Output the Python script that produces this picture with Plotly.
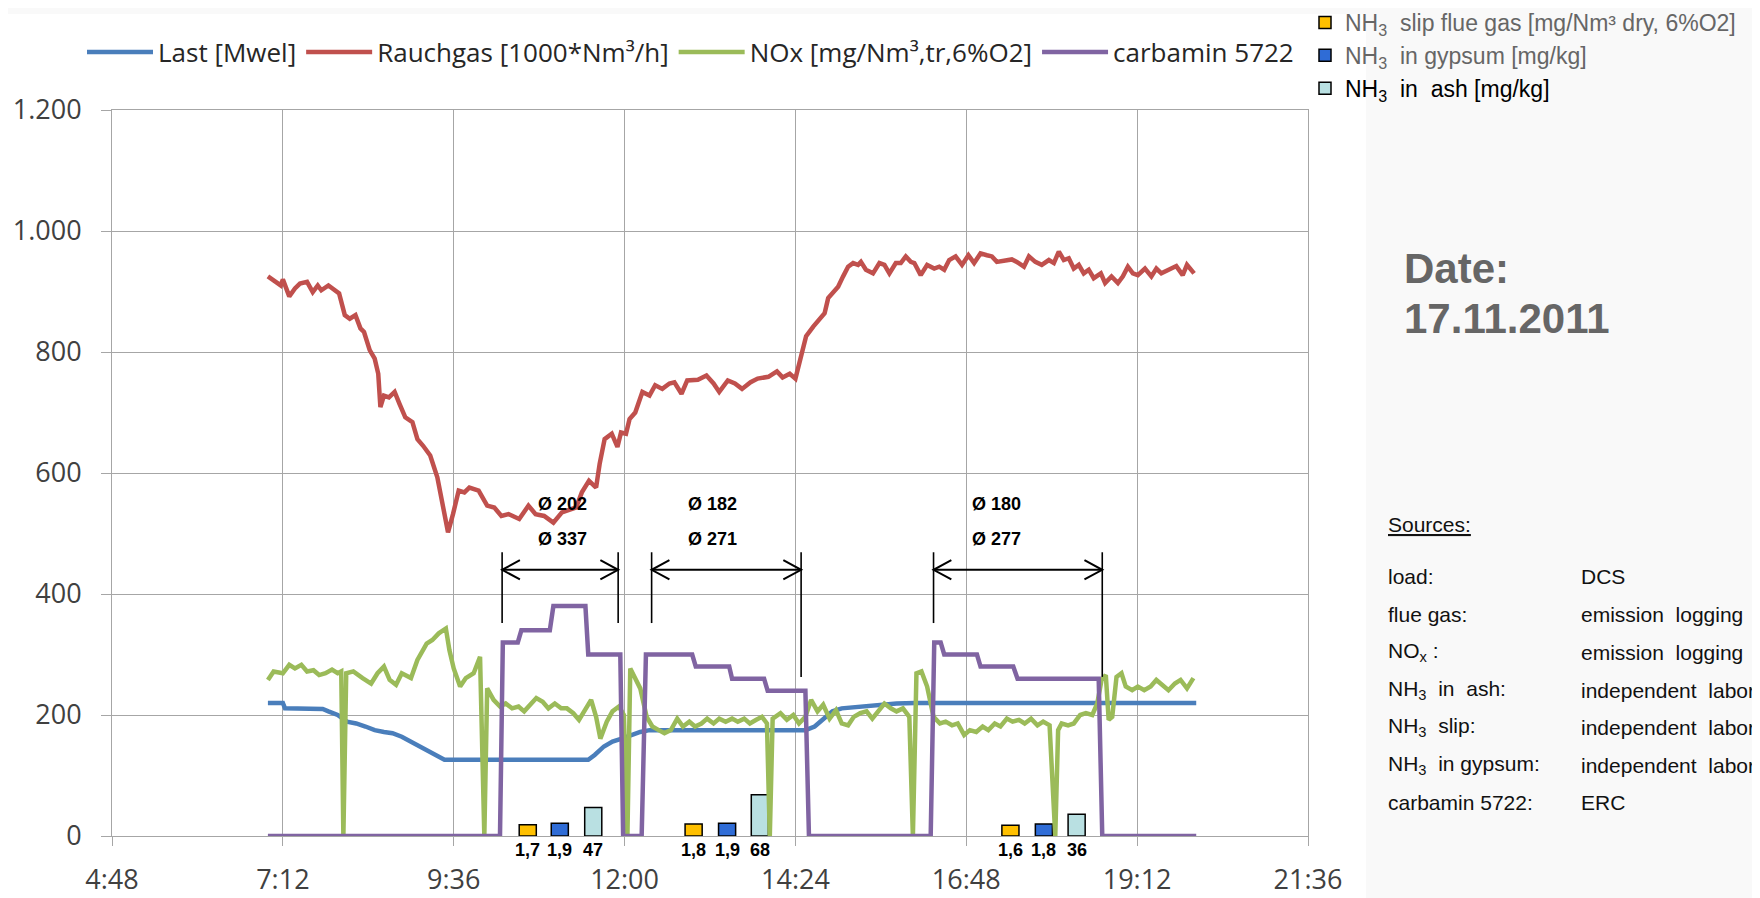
import plotly.graph_objects as go

# ---------------- data (time in decimal hours) ----------------
last_t = [6.99, 7.2, 7.23, 7.76, 7.84, 7.97, 8.1, 8.23, 8.36, 8.49, 8.62, 8.74, 8.87, 9.0, 9.13,
          9.26, 9.39, 9.47, 11.49, 11.58, 11.71, 11.83, 11.96, 12.09, 12.22, 12.35, 14.54, 14.67,
          14.79, 14.92, 15.05, 15.31, 15.57, 15.82, 16.08, 20.03]
last_v = [220, 220, 211, 210, 206, 200, 189, 186, 181, 175, 172, 170, 164, 156, 148,
          139, 131, 126, 126, 134, 148, 156, 161, 167, 172, 175, 175, 181,
          192, 206, 211, 214, 217, 219, 220, 220]

rauch_t = [6.99, 7.09, 7.17, 7.2, 7.29, 7.37, 7.44, 7.54, 7.62, 7.69, 7.74, 7.84, 7.92, 7.99, 8.07,
           8.14, 8.22, 8.29, 8.34, 8.42, 8.49, 8.54, 8.57, 8.62, 8.69, 8.77, 8.84, 8.92, 9.02, 9.09,
           9.17, 9.27, 9.37, 9.44, 9.52, 9.59, 9.67, 9.75, 9.82, 9.95, 10.07, 10.17, 10.27, 10.37,
           10.52, 10.65, 10.75, 10.87, 11.0, 11.12, 11.22, 11.32, 11.4, 11.5, 11.6, 11.65, 11.72,
           11.82, 11.9, 11.95, 12.02, 12.07, 12.15, 12.25, 12.35, 12.43, 12.53, 12.63, 12.7, 12.8,
           12.88, 13.03, 13.15, 13.25, 13.33, 13.45, 13.55, 13.65, 13.77, 13.87, 14.02, 14.14, 14.22,
           14.32, 14.4, 14.46, 14.55, 14.65, 14.74, 14.81, 14.86, 14.93, 15.0, 15.07, 15.14, 15.21,
           15.28, 15.32, 15.39, 15.49, 15.58, 15.65, 15.72, 15.81, 15.88, 15.95, 16.02, 16.07, 16.16,
           16.25, 16.35, 16.42, 16.49, 16.56, 16.65, 16.74, 16.83, 16.91, 17.0, 17.09, 17.16, 17.23,
           17.35, 17.44, 17.51, 17.61, 17.68, 17.77, 17.86, 17.96, 18.03, 18.1, 18.17, 18.24, 18.31,
           18.38, 18.45, 18.52, 18.59, 18.69, 18.75, 18.84, 18.93, 19.0, 19.07, 19.14, 19.21, 19.31,
           19.4, 19.47, 19.54, 19.63, 19.75, 19.84, 19.9, 20.0]
rauch_v = [925, 916, 910, 920, 892, 905, 913, 916, 899, 910, 902, 910, 902, 897, 861,
           855, 861, 839, 833, 803, 789, 764, 709, 728, 725, 734, 714, 692, 684, 656,
           645, 629, 593, 549, 502, 532, 571, 568, 576, 571, 546, 543, 529, 532,
           524, 546, 532, 529, 518, 535, 540, 543, 568, 587, 576, 615, 656,
           665, 643, 667, 665, 689, 700, 734, 728, 745, 739, 748, 750, 731,
           753, 754, 761, 748, 734, 753, 748, 739, 750, 756, 759, 768, 758,
           764, 756, 782, 826, 842, 856, 864, 889, 900, 908, 925, 941, 947,
           944, 949, 936, 930, 947, 944, 930, 947, 947, 958, 949, 947, 927,
           944, 938, 941, 936, 952, 958, 944, 960, 947, 963, 960, 958, 949,
           951, 953, 949, 941, 958, 949, 944, 952, 947, 966, 952, 955, 938,
           944, 930, 936, 922, 930, 914, 925, 914, 925, 941, 930, 927, 938,
           925, 938, 930, 936, 942, 927, 944, 930]

nox_t = [6.99, 7.07, 7.2, 7.29, 7.37, 7.46, 7.54, 7.63, 7.71, 7.8, 7.89, 7.97, 8.02, 8.05, 8.09,
         8.19, 8.32, 8.44, 8.53, 8.62, 8.7, 8.79, 8.87, 9.0, 9.09, 9.22, 9.3, 9.39, 9.49, 9.54,
         9.6, 9.69, 9.77, 9.88, 9.97, 10.03, 10.07, 10.16, 10.25, 10.33, 10.42, 10.51, 10.59,
         10.68, 10.76, 10.85, 10.93, 11.02, 11.11, 11.19, 11.28, 11.36, 11.45, 11.53, 11.6, 11.66,
         11.75, 11.83, 11.92, 11.99, 12.04, 12.08, 12.14, 12.22, 12.31, 12.39, 12.48, 12.56,
         12.65, 12.74, 12.82, 12.91, 12.99, 13.08, 13.16, 13.25, 13.33, 13.42, 13.51, 13.59,
         13.68, 13.76, 13.85, 13.93, 14.0, 14.04, 14.08, 14.19, 14.28, 14.37, 14.45, 14.54, 14.62,
         14.71, 14.79, 14.88, 14.97, 15.05, 15.14, 15.22, 15.31, 15.4, 15.48, 15.57, 15.65, 15.74,
         15.82, 15.91, 16.0, 16.05, 16.1, 16.17, 16.25, 16.34, 16.43, 16.51, 16.6, 16.68, 16.77,
         16.85, 16.94, 17.03, 17.11, 17.2, 17.28, 17.37, 17.45, 17.54, 17.62, 17.71, 17.8, 17.88,
         17.97, 18.05, 18.09, 18.14, 18.23, 18.31, 18.4, 18.48, 18.57, 18.64, 18.7, 18.76, 18.8,
         18.85, 18.91, 18.98, 19.04, 19.13, 19.21, 19.3, 19.39, 19.47, 19.56, 19.64, 19.73, 19.81,
         19.9, 19.99]
nox_v = [258, 272, 269, 283, 277, 283, 272, 274, 266, 269, 275, 269, 272, 0, 269,
         272, 261, 252, 269, 280, 258, 250, 269, 261, 291, 318, 324, 335, 343, 307,
         277, 247, 261, 269, 296, 0, 244, 225, 214, 219, 211, 214, 206,
         217, 228, 222, 211, 219, 211, 211, 203, 192, 211, 225, 197, 161,
         189, 206, 214, 200, 0, 277, 263, 244, 197, 181, 175, 170,
         175, 194, 181, 189, 181, 186, 194, 186, 194, 189, 194, 189,
         194, 186, 192, 197, 186, 0, 194, 203, 192, 200, 186, 197, 225,
         206, 217, 194, 208, 186, 183, 197, 203, 206, 194, 208, 219, 211,
         206, 211, 197, 0, 269, 272, 247, 197, 186, 189, 183, 186, 167,
         175, 172, 181, 175, 186, 181, 194, 189, 192, 186, 194, 183, 189,
         183, 0, 175, 186, 183, 186, 200, 203, 200, 219, 258, 266, 192,
         197, 263, 269, 247, 241, 247, 241, 247, 258, 250, 241, 252, 258,
         244, 261]

carb_t = [6.99, 10.25, 10.29, 10.5, 10.55, 10.95, 11.0, 11.45, 11.49, 11.94, 11.98, 12.24, 12.3,
          12.95, 13.0, 13.47, 13.51, 13.96, 14.01, 14.54, 14.59, 16.3, 16.35, 16.44, 16.49, 16.95,
          17.0, 17.46, 17.52, 18.66, 18.71, 20.03]
carb_v = [0, 0, 320, 320, 340, 340, 380, 380, 300, 300, 0, 0, 300,
          300, 280, 280, 260, 260, 240, 240, 0, 0, 320, 320, 300, 300,
          280, 280, 260, 260, 0, 0]

# NH3 sample measurements (three campaigns)
slip_t = [10.64, 12.97, 17.42]
slip_vals = [1.7, 1.8, 1.6]
gyp_t = [11.09, 13.44, 17.89]
gyp_vals = [1.9, 1.9, 1.8]
ash_t = [11.56, 13.90, 18.35]
ash_vals = [47, 68, 36]
SMALL_SCALE = 11  # drawing scale for the mg/Nm3 and gypsum values

# dosing periods and averages
block_start = [10.28, 12.38, 16.34]
block_end = [11.91, 14.48, 18.71]
block_end_low = [352, 263, 263]
block_label_x = [11.13, 13.24, 17.22]
nox_avg = [202, 182, 180]
carb_avg = [337, 271, 277]

x_tickvals = [4.8, 7.2, 9.6, 12.0, 14.4, 16.8, 19.2, 21.6]
x_ticktext = ["4:48", "7:12", "9:36", "12:00", "14:24", "16:48", "19:12", "21:36"]
y_tickvals = [0, 200, 400, 600, 800, 1000, 1200]
y_ticktext = ["0", "200", "400", "600", "800", "1.000", "1.200"]

source_labels = ["load:", "flue gas:", "NO<sub>x</sub> :", "NH<sub>3</sub>\u00a0 in\u00a0 ash:",
                 "NH<sub>3</sub>\u00a0 slip:", "NH<sub>3</sub>\u00a0 in gypsum:", "carbamin 5722:"]
source_values = ["DCS", "emission\u00a0 logging", "emission\u00a0 logging",
                 "independent\u00a0 labor", "independent\u00a0 labor",
                 "independent\u00a0 labor", "ERC"]

# ---------------- figure geometry ----------------
OFF = 8                       # page offset of the figure (default body margin)
W, H = 1760 - OFF, 898 - OFF
ML, MT = 112 - OFF, 110 - OFF
MR = W - (1308 - OFF)
MB = H - (836 - OFF)
PW, PH = W - ML - MR, H - MT - MB


def px(xp):
    """page pixel x -> paper x"""
    return (xp - OFF - ML) / PW


def py(yp):
    """page pixel y -> paper y"""
    return (H - MB - (yp - OFF)) / PH


GRID = "#a6a6a6"
ARIAL = "Liberation Sans, Arial, sans-serif"
TICKFONT = "Open Sans, sans-serif"

fig = go.Figure()

bar_line = dict(color="black", width=1.5)
fig.add_trace(go.Bar(x=slip_t, y=[v * SMALL_SCALE for v in slip_vals], width=0.24,
                     marker=dict(color="#FFC000", line=bar_line), legend="legend2", legendgroup="a",
                     name="NH<sub>3</sub>\u00a0 slip flue gas [mg/Nm³ dry, 6%O2]"))
fig.add_trace(go.Bar(x=gyp_t, y=[v * SMALL_SCALE for v in gyp_vals], width=0.24,
                     marker=dict(color="#2F6CD6", line=bar_line), legend="legend2", legendgroup="b",
                     name="NH<sub>3</sub>\u00a0 in gypsum [mg/kg]"))
fig.add_trace(go.Bar(x=ash_t, y=ash_vals, width=0.24,
                     marker=dict(color="#B9E0E2", line=bar_line), legend="legend2", legendgroup="c",
                     name="<span style='color:#000000'>NH<sub>3</sub>\u00a0 in\u00a0 ash [mg/kg]</span>"))

fig.add_trace(go.Scatter(x=last_t, y=last_v, mode="lines", name="Last [Mwel]",
                         line=dict(color="#4A7EBB", width=4.5)))
fig.add_trace(go.Scatter(x=rauch_t, y=rauch_v, mode="lines", name="Rauchgas [1000*Nm³/h]",
                         line=dict(color="#C0504D", width=4.5)))
fig.add_trace(go.Scatter(x=nox_t, y=nox_v, mode="lines", name="NOx [mg/Nm³,tr,6%O2]",
                         line=dict(color="#9BBB59", width=4.5)))
fig.add_trace(go.Scatter(x=carb_t, y=carb_v, mode="lines", name="carbamin 5722",
                         line=dict(color="#8064A2", width=4.5)))

shapes = []
# white chart area on light grey page
shapes.append(dict(type="rect", xref="paper", yref="paper", x0=px(0), x1=px(1366),
                   y0=py(900), y1=py(14), fillcolor="white", line=dict(width=0), layer="below"))

annotations = []
ARROW_Y, TOP_Y, LOW_Y = 440, 469, 352
DX, DY = 0.25, 16
for s, e, el, lx, na, ca in zip(block_start, block_end, block_end_low, block_label_x, nox_avg, carb_avg):
    shapes.append(dict(type="line", xref="x", yref="y", x0=s, x1=s, y0=LOW_Y, y1=TOP_Y,
                       line=dict(color="black", width=1.6)))
    shapes.append(dict(type="line", xref="x", yref="y", x0=e, x1=e, y0=el, y1=TOP_Y,
                       line=dict(color="black", width=1.6)))
    shapes.append(dict(type="line", xref="x", yref="y", x0=s, x1=e, y0=ARROW_Y, y1=ARROW_Y,
                       line=dict(color="black", width=2)))
    shapes.append(dict(type="path", xref="x", yref="y",
                       path=f"M{s + DX},{ARROW_Y + DY} L{s},{ARROW_Y} L{s + DX},{ARROW_Y - DY}",
                       line=dict(color="black", width=2)))
    shapes.append(dict(type="path", xref="x", yref="y",
                       path=f"M{e - DX},{ARROW_Y + DY} L{e},{ARROW_Y} L{e - DX},{ARROW_Y - DY}",
                       line=dict(color="black", width=2)))
    annotations.append(dict(x=lx, y=549, xref="x", yref="y", text=f"<b>Ø {na}</b>", showarrow=False,
                            font=dict(family=ARIAL, size=18, color="black")))
    annotations.append(dict(x=lx, y=491, xref="x", yref="y", text=f"<b>Ø {ca}</b>", showarrow=False,
                            font=dict(family=ARIAL, size=18, color="black")))

# value labels below the sample bars
for xs, vals, fmt in [(slip_t, slip_vals, "dec"), (gyp_t, gyp_vals, "dec"), (ash_t, ash_vals, "int")]:
    for xv, v in zip(xs, vals):
        txt = f"{v:.1f}".replace(".", ",") if fmt == "dec" else f"{v}"
        annotations.append(dict(x=xv, y=0, xref="x", yref="y", yanchor="top", yshift=-2,
                                text=f"<b>{txt}</b>", showarrow=False,
                                font=dict(family=ARIAL, size=18, color="black")))

# right-hand panel
annotations.append(dict(x=px(1402), y=py(268), xref="paper", yref="paper", xanchor="left",
                        yanchor="middle", text="<b>Date:</b>", showarrow=False,
                        font=dict(family=ARIAL, size=42, color="#666666")))
annotations.append(dict(x=px(1402), y=py(318), xref="paper", yref="paper", xanchor="left",
                        yanchor="middle", text="<b>17.11.2011</b>", showarrow=False,
                        font=dict(family=ARIAL, size=42, color="#666666")))
annotations.append(dict(x=px(1386), y=py(524), xref="paper", yref="paper", xanchor="left",
                        yanchor="middle",
                        text="<span style='text-decoration:underline'>Sources:</span>", showarrow=False,
                        font=dict(family=ARIAL, size=21, color="#111111")))
row_y = [576, 614, 652, 690, 727, 765, 802]
for lab, val, ry in zip(source_labels, source_values, row_y):
    annotations.append(dict(x=px(1386), y=py(ry), xref="paper", yref="paper", xanchor="left",
                            yanchor="middle", text=lab, showarrow=False,
                            font=dict(family=ARIAL, size=21, color="#111111")))
    annotations.append(dict(x=px(1579), y=py(ry), xref="paper", yref="paper", xanchor="left",
                            yanchor="middle", text=val, showarrow=False,
                            font=dict(family=ARIAL, size=21, color="#111111")))

fig.update_layout(
    width=W, height=H, autosize=False,
    margin=dict(l=ML, r=MR, t=MT, b=MB, autoexpand=False),
    paper_bgcolor="#f9f9f9", plot_bgcolor="white",
    barmode="overlay",
    showlegend=True,
    legend=dict(orientation="h", x=px(82), xanchor="left", y=py(52), yanchor="middle",
                font=dict(family=TICKFONT, size=26, color="#262626"), bgcolor="rgba(0,0,0,0)",
                itemwidth=66, traceorder="normal"),
    legend2=dict(orientation="v", x=px(1305), xanchor="left", y=py(1), yanchor="top",
                 font=dict(family=ARIAL, size=23, color="#666666"), bgcolor="rgba(0,0,0,0)",
                 tracegroupgap=0),
    shapes=shapes, annotations=annotations,
)
fig.update_xaxes(range=[4.8, 21.6], tickvals=x_tickvals, ticktext=x_ticktext, showgrid=True,
                 gridcolor=GRID, gridwidth=1, zeroline=False, showline=True, linecolor=GRID,
                 linewidth=1, mirror=True, ticks="outside", ticklen=9, tickcolor=GRID,
                 ticklabelstandoff=11, tickfont=dict(family=TICKFONT, size=27, color="#404040"))
fig.update_yaxes(range=[0, 1200], tickvals=y_tickvals, ticktext=y_ticktext, showgrid=True,
                 gridcolor=GRID, gridwidth=1, zeroline=False, showline=True, linecolor=GRID,
                 linewidth=1, mirror=True, ticks="outside", ticklen=10, tickcolor=GRID,
                 ticklabelstandoff=14, tickfont=dict(family=TICKFONT, size=27, color="#404040"))

fig.write_html("out.html")
